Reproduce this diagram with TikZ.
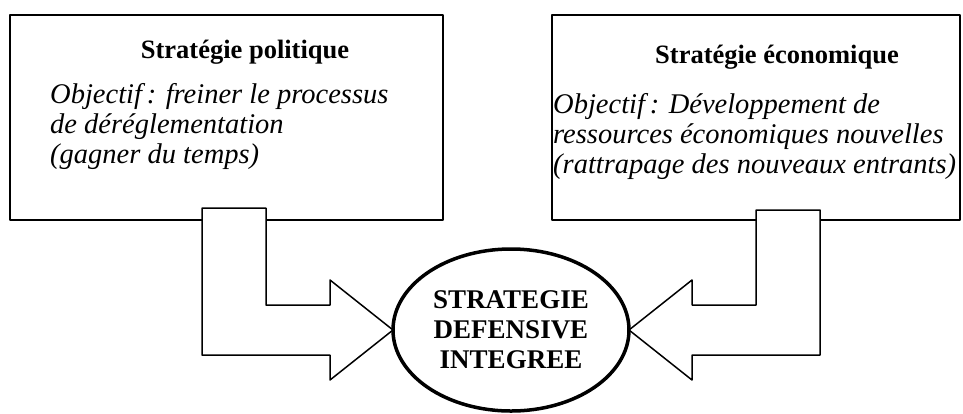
\documentclass[tikz,border=0pt]{standalone}
\usepackage{fontspec}
\setmainfont{Liberation Serif}
\usetikzlibrary{shapes.geometric}
\tikzset{
  cadre/.style={draw,line width=1.5pt,minimum height=205pt,inner sep=0pt,outer sep=0pt},
  titre/.style={anchor=base,inner sep=0pt,font=\fontsize{26.5}{30}\selectfont\bfseries},
  corps/.style={anchor=base west,inner sep=0pt,font=\fontsize{28.5}{30}\selectfont\itshape},
  fleche/.style={draw,fill=white,line width=1.5pt}
}
\begin{document}
\begin{tikzpicture}[line cap=round,line join=round,x=1pt,y=-1pt]
\useasboundingbox (0,0) rectangle (963,413);
% Les deux cadres du haut
\node[cadre,minimum width=433pt] (pol) at (226.5,117.5) {};
\node[cadre,minimum width=408pt] (eco) at (756,117.5) {};
\node[titre] (poltitre) at (245,58) {Stratégie politique};
\node[titre] (ecotitre) at (777,63) {Stratégie économique};
\foreach \ligne [count=\i] in {{Objectif\,: freiner le processus},
  {de déréglementation},{(gagner du temps)}}
  \node[corps] (pol\i) at (50,73+30*\i) {\ligne};
\foreach \ligne [count=\i] in {{Objectif\,: Développement de},
  {ressources économiques nouvelles},{(rattrapage des nouveaux entrants)}}
  \node[corps] (eco\i) at (553,83+30*\i) {\ligne};
% L'ellipse au centre
\node[ellipse,draw,line width=3.5pt,minimum width=236pt,minimum height=162pt,
  inner sep=0pt,outer sep=0pt,align=center,
  font=\fontsize{27}{30}\selectfont\bfseries] (strat) at (511,330)
  {STRATEGIE\\DEFENSIVE\\INTEGREE};
% Les flèches coudées
\draw[fleche] (strat.west) -- ++(-63,-50) -- ++(0,25) -- ++(-64,0)
  -- ++(0,-97) -- ++(-64,0) -- ++(0,147) -- ++(128,0) -- ++(0,25) -- cycle;
\draw[fleche] (strat.east) -- ++(63,-50) -- ++(0,25) -- ++(64,0)
  -- ++(0,-95) -- ++(64,0) -- ++(0,145) -- ++(-128,0) -- ++(0,25) -- cycle;
\end{tikzpicture}
\end{document}
